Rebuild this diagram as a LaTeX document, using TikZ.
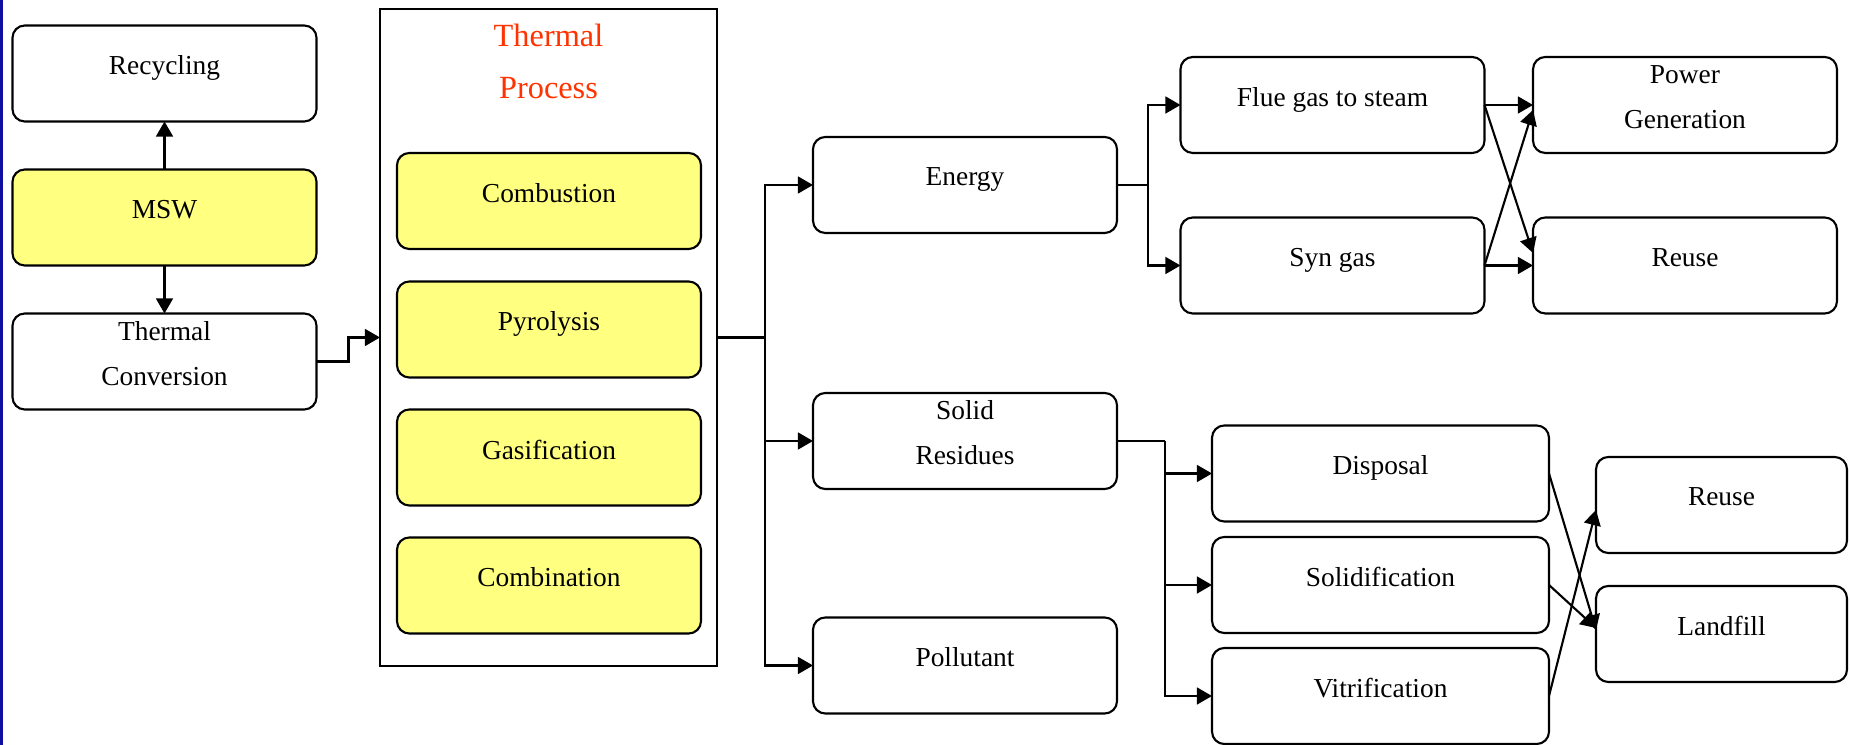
\documentclass[tikz,border=0pt]{standalone}
\usepackage{fontspec}
\setmainfont{Liberation Serif}
\usetikzlibrary{arrows.meta}
\definecolor{boxyellow}{RGB}{255,255,128}
\definecolor{titlered}{RGB}{255,51,0}
\definecolor{edgeblue}{RGB}{16,16,160}
\tikzset{
  box/.style={draw, rounded corners=3.5pt, minimum width=3.04cm, minimum height=0.96cm,
    inner ysep=1pt, align=center, text depth=4.6pt, outer sep=0pt,
    font=\fontsize{7.8}{12.8}\selectfont},
  ybox/.style={box, fill=boxyellow},
  arr/.style={-{Triangle[length=4.3pt,width=4.8pt]}},
}
\begin{document}
\begin{tikzpicture}[line width=0.6pt]
\useasboundingbox (0,0) rectangle (18.5,7.45);
\fill[edgeblue] (0,0) rectangle (0.03,7.45);

% left column
\node[box] (recyc) at (1.645,6.715) {Recycling};
\node[ybox] (msw) at (1.645,5.275) {MSW};
\node[box] (tconv) at (1.645,3.835) {Thermal\\Conversion};
\draw[arr] (msw) -- (recyc);
\draw[arr] (msw) -- (tconv);

% thermal process
\node[draw, minimum width=3.37cm, minimum height=6.57cm, outer sep=0pt] (proc) at (5.485,4.075) {};
\node[align=center, text=titlered, font=\fontsize{9.2}{14.8}\selectfont] (ptitle) at (5.485,6.84) {Thermal\\Process};
\node[ybox] (comb) at (5.49,5.44) {Combustion};
\node[ybox] (pyro) at (5.49,4.155) {Pyrolysis};
\node[ybox] (gasi) at (5.49,2.875) {Gasification};
\node[ybox] (combi) at (5.49,1.595) {Combination};
\draw[arr] (tconv.east) -- ++(0.32,0) |- (proc.west);

% products
\node[box] (energy) at (9.65,5.60) {Energy};
\node[box] (solid) at (9.65,3.04) {Solid\\Residues};
\node[box] (pollut) at (9.65,0.795) {Pollutant};
\draw (proc.east) -- ++(0.48,0) coordinate (b1);
\draw[arr] (b1) |- (energy.west);
\draw[arr] (b1) |- (solid.west);
\draw[arr] (b1) |- (pollut.west);

% energy branch
\node[box] (flue) at (13.325,6.40) {Flue gas to steam};
\node[box] (syngas) at (13.325,4.795) {Syn gas};
\node[box] (power) at (16.85,6.40) {Power\\Generation};
\node[box] (reuse) at (16.85,4.795) {Reuse};
\draw (energy.east) -- ++(0.31,0) coordinate (b2);
\draw[arr] (b2) |- (flue.west);
\draw[arr] (b2) |- (syngas.west);
\draw[arr] (flue.east) -- (power.west);
\draw[arr] (syngas.east) -- (reuse.west);
\draw[arr] (flue.east) -- ([yshift=0.125cm]reuse.west);
\draw[arr] (syngas.east) -- ([yshift=-0.05cm]power.west);

% residue branch
\node[box, minimum width=3.37cm] (dispo) at (13.805,2.715) {Disposal};
\node[box, minimum width=3.37cm] (solidif) at (13.805,1.60) {Solidification};
\node[box, minimum width=3.37cm] (vitri) at (13.805,0.49) {Vitrification};
\node[box, minimum width=2.51cm] (reuse2) at (17.215,2.40) {Reuse};
\node[box, minimum width=2.51cm] (landf) at (17.215,1.11) {Landfill};
\draw (solid.east) -- ++(0.48,0) coordinate (b3);
\draw[arr] (b3) |- (dispo.west);
\draw[arr] (b3) |- (solidif.west);
\draw[arr] (b3) |- (vitri.west);
\draw[arr] (dispo.east) -- ([yshift=0.04cm]landf.west);
\draw[arr] (solidif.east) -- ([yshift=0.06cm]landf.west);
\draw[arr] (vitri.east) -- ([yshift=-0.05cm]reuse2.west);
\end{tikzpicture}
\end{document}
